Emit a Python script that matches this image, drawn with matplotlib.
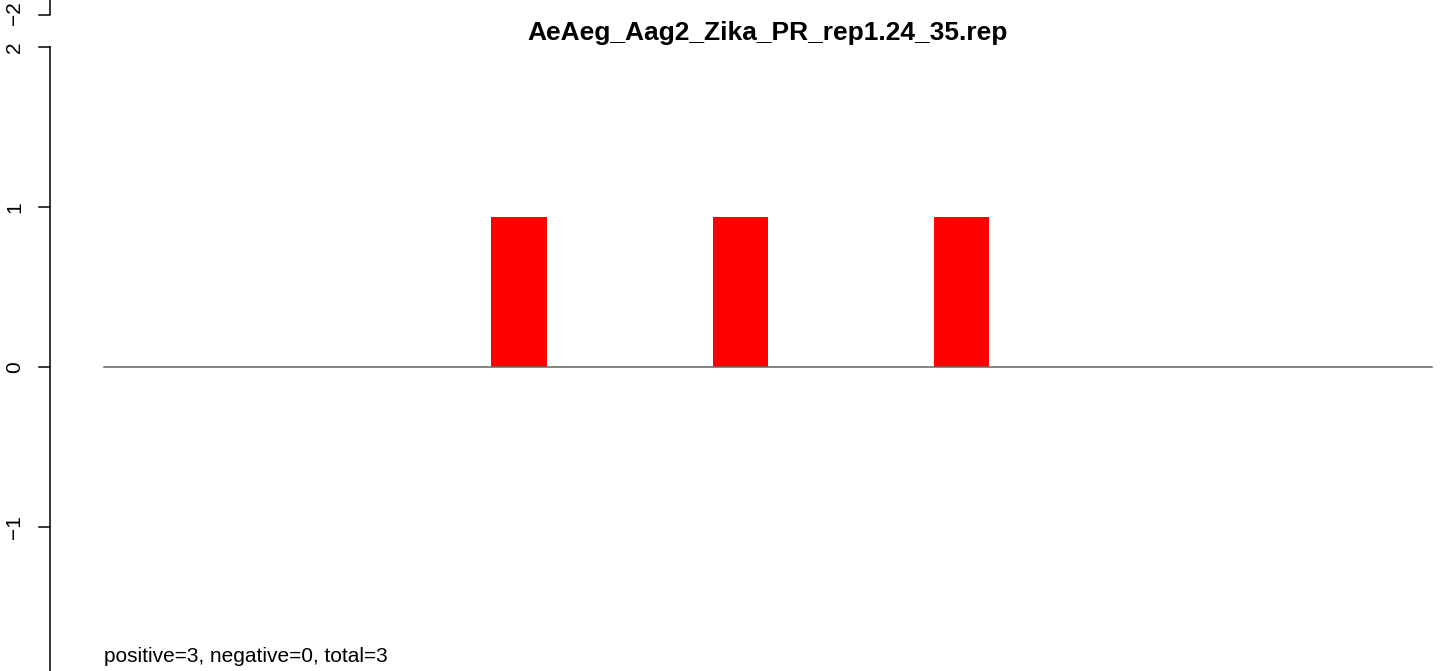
import matplotlib
matplotlib.use("Agg")
import matplotlib.pyplot as plt

plt.rcParams['font.family'] = ['Liberation Sans', 'DejaVu Sans']

title = "AeAeg_Aag2_Zika_PR_rep1.24_35.rep"
slots = [0, 1, 2, 3, 4, 5]
values = [0, 0.94, 0.94, 0.94, 0, 0]
ytick_vals = [2, 1, 0, -1]
ytick_labels = ["2", "1", "0", "\u22121"]
summary = "positive=3, negative=0, total=3"

W, H = 1444, 671
fig = plt.figure(figsize=(W / 100, H / 100), dpi=100)
ax = fig.add_axes([0, 0, 1, 1])
ax.axis('off')

px_x = 1328 / 6.0   # pixels per slot
px_y = 160.0        # pixels per unit
x0, y0 = 104, 367   # pixel of (0, 0)
ax.set_xlim(-x0 / px_x, (W - x0) / px_x)
ax.set_ylim(-(H - y0) / px_y, y0 / px_y)

# bars
ax.bar([s + 0.875 for s in slots], values, width=0.25, color="#FF0000", linewidth=0)
ax.plot([0, 6], [0, 0], color="#666666", lw=1.1)

# y axis
xa = (50 - x0) / px_x
tl = 11 / px_x
ax.plot([xa, xa], [-2.5, 2], color="black", lw=1.1, clip_on=False)
for v, lab in zip(ytick_vals, ytick_labels):
    ax.plot([xa - tl, xa], [v, v], color="black", lw=1.1)
    ax.text((15 - x0) / px_x, v, lab, rotation=90, ha="center", va="center", fontsize=15)

# odd extra tick at top
yt = (y0 - 15) / px_y
ax.plot([xa - tl, xa, xa], [yt, yt, 3], color="black", lw=1.1)
ax.text((15 - x0) / px_x, (y0 - 13) / px_y, "\u22122", rotation=90, ha="center", va="center", fontsize=15)

ax.text(3, (y0 - 33) / px_y, title, ha="center", va="center", fontsize=19, fontweight="bold")
ax.text(0, (y0 - 656) / px_y, summary, ha="left", va="center", fontsize=15)

fig.savefig("out.png", dpi=100)
